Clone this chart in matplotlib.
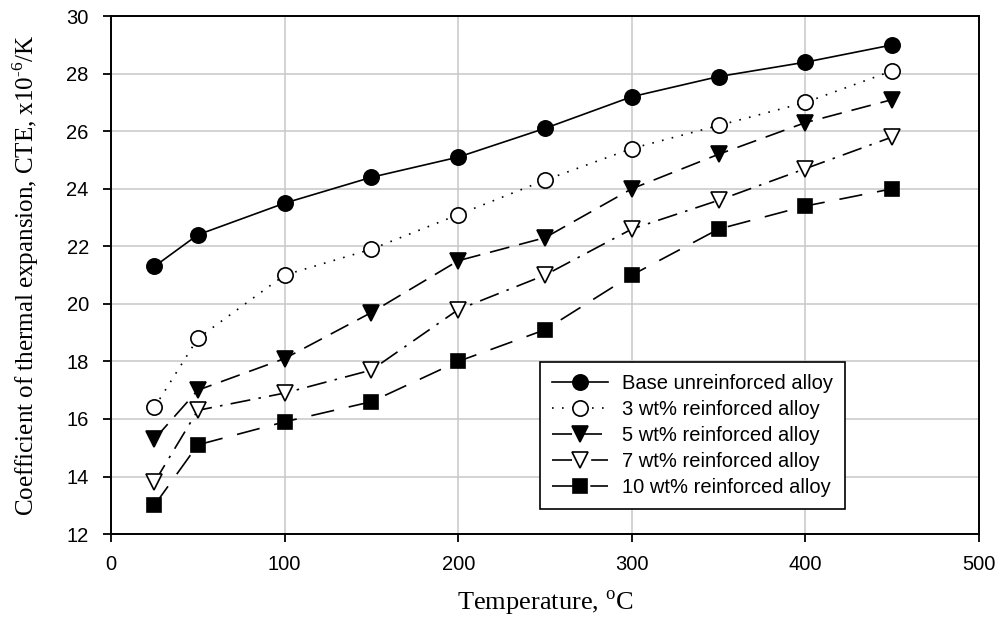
import matplotlib
matplotlib.use("Agg")
import matplotlib.pyplot as plt

temps = [25, 50, 100, 150, 200, 250, 300, 350, 400, 450]
base = [21.3, 22.4, 23.5, 24.4, 25.1, 26.1, 27.2, 27.9, 28.4, 29.0]
wt3 = [16.4, 18.8, 21.0, 21.9, 23.1, 24.3, 25.4, 26.2, 27.0, 28.1]
wt5 = [15.3, 17.0, 18.1, 19.7, 21.5, 22.3, 24.0, 25.2, 26.3, 27.1]
wt7 = [13.8, 16.3, 16.9, 17.7, 19.8, 21.0, 22.6, 23.6, 24.7, 25.8]
wt10 = [13.0, 15.1, 15.9, 16.6, 18.0, 19.1, 21.0, 22.6, 23.4, 24.0]
labels = ["Base unreinforced alloy", "3 wt% reinforced alloy", "5 wt% reinforced alloy",
          "7 wt% reinforced alloy", "10 wt% reinforced alloy"]

plt.rcParams['mathtext.fontset'] = 'custom'
plt.rcParams['mathtext.rm'] = 'Liberation Serif'

fig = plt.figure(figsize=(10, 6.21), dpi=100)
ax = fig.add_axes([0.111, 0.140, 0.868, 0.834])

series = [base, wt3, wt5, wt7, wt10]
styles = [
    dict(ls='-', marker='o', mfc='black', ms=11),
    dict(ls=(0, (1, 5)), marker='o', mfc='white', ms=11),
    dict(ls=(0, (12, 6)), marker='v', mfc='black', ms=11),
    dict(ls=(0, (12, 5, 1.5, 5)), marker='v', mfc='white', ms=11),
    dict(ls=(0, (14, 9)), marker='s', mfc='black', ms=10),
]
for y, st, lab in zip(series, styles, labels):
    ax.plot(temps, y, color='black', lw=1.2, mec='black', mew=1.2, label=lab,
            zorder=3, **st)

ax.set_xlim(0, 500)
ax.set_ylim(12, 30)
ax.set_xticks(range(0, 501, 100))
ax.set_yticks(range(12, 31, 2))
ax.grid(True, color='#c8c8c8', lw=1.1, zorder=0)
ax.set_axisbelow(True)
for s in ax.spines.values():
    s.set_linewidth(1.4)
ax.tick_params(direction='out', length=6, width=1.3, labelsize=14.5)
ax.tick_params(axis='y', pad=10)
ax.tick_params(axis='x', pad=9)
for lbl in ax.get_xticklabels() + ax.get_yticklabels():
    lbl.set_fontfamily('Liberation Sans')

ax.set_xlabel(r"Temperature, $^{\rm o}$C", fontsize=19, family='Liberation Serif', labelpad=11)
ax.set_ylabel(r"Coefficient of thermal expansion, CTE, x10$^{\text{-6}}$/K", fontsize=18,
              family='Liberation Serif', labelpad=18)

leg = ax.legend(loc='lower left', bbox_to_anchor=(0.494, 0.048), fancybox=False,
                edgecolor='black', framealpha=1, prop={'family': 'Liberation Sans', 'size': 14.5},
                handlelength=2.8, handletextpad=0.7, borderpad=0.6, labelspacing=0.35,
                borderaxespad=0)
leg.get_frame().set_linewidth(1.2)

fig.savefig("out.png", dpi=100)
